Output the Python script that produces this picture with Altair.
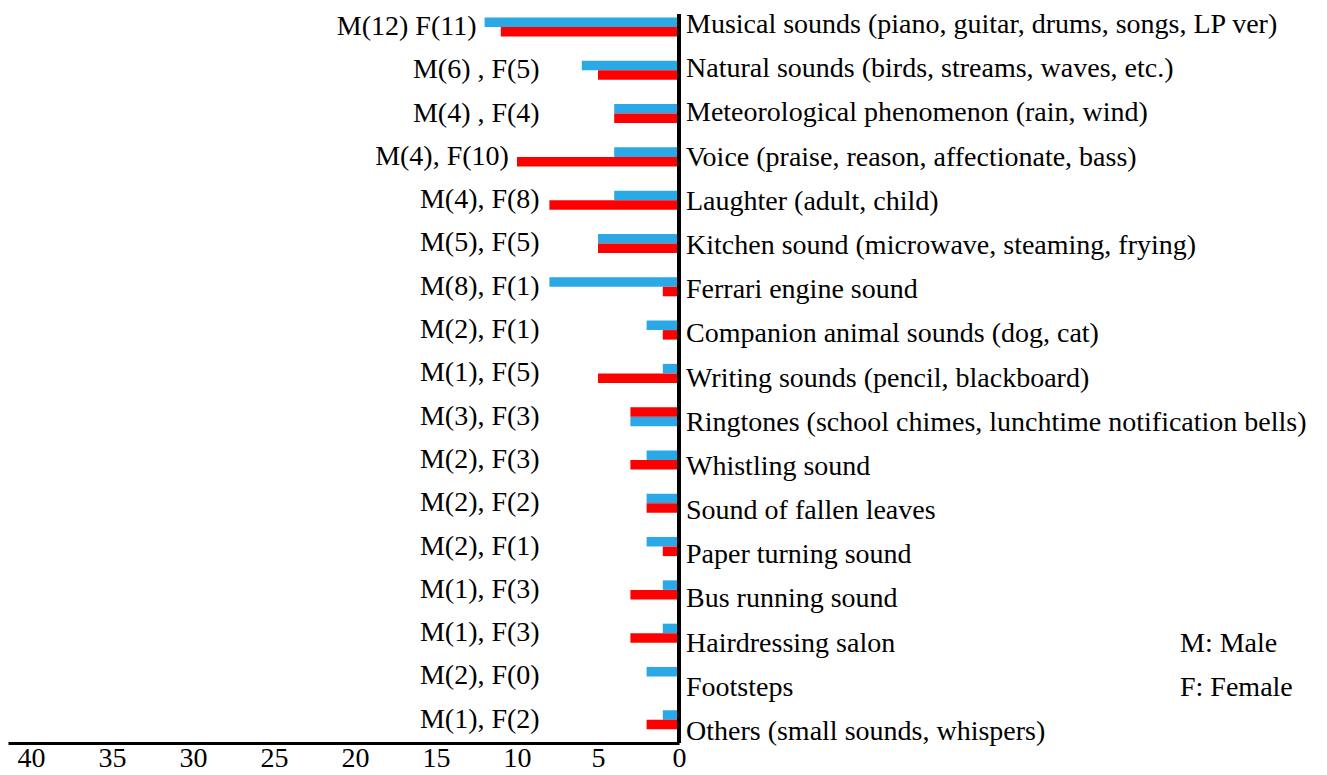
import altair as alt
import pandas as pd

categories = [
    "Musical sounds (piano, guitar, drums, songs, LP ver)",
    "Natural sounds (birds, streams, waves, etc.)",
    "Meteorological phenomenon (rain, wind)",
    "Voice (praise, reason, affectionate, bass)",
    "Laughter (adult, child)",
    "Kitchen sound (microwave, steaming, frying)",
    "Ferrari engine sound",
    "Companion animal sounds (dog, cat)",
    "Writing sounds (pencil, blackboard)",
    "Ringtones (school chimes, lunchtime notification bells)",
    "Whistling sound",
    "Sound of fallen leaves",
    "Paper turning sound",
    "Bus running sound",
    "Hairdressing salon",
    "Footsteps",
    "Others (small sounds, whispers)",
]
male = [12, 6, 4, 4, 4, 5, 8, 2, 1, 3, 2, 2, 2, 1, 1, 2, 1]
female = [11, 5, 4, 10, 8, 5, 1, 1, 5, 3, 3, 2, 1, 3, 3, 0, 2]
count_labels = [
    "M(12) F(11)", "M(6) , F(5)", "M(4) , F(4)", "M(4), F(10)", "M(4), F(8)",
    "M(5), F(5)", "M(8), F(1)", "M(2), F(1)", "M(1), F(5)", "M(3), F(3)",
    "M(2), F(3)", "M(2), F(2)", "M(2), F(1)", "M(1), F(3)", "M(1), F(3)",
    "M(2), F(0)", "M(1), F(2)",
]
male_on_top = [True] * 9 + [False] + [True] * 7
x_ticks = [0, 5, 10, 15, 20, 25, 30, 35, 40]

BLUE = "#2aa9e6"
RED = "#ff0000"
FONT = "Liberation Serif"
FS = 28
H = 0.22

bars = []
for i, (m, f, top) in enumerate(zip(male, female, male_on_top)):
    if top:
        my0, my1, fy0, fy1 = i - H, i, i, i + H
    else:
        fy0, fy1, my0, my1 = i - H, i, i, i + H
    bars.append(dict(row=i, sex="Male", value=m, y0=my0, y1=my1))
    bars.append(dict(row=i, sex="Female", value=f, y0=fy0, y1=fy1))
bars_df = pd.DataFrame(bars)

lab_df = pd.DataFrame({
    "row": list(range(len(categories))),
    "category": categories,
    "count": count_labels,
    "lx": [max(8.6, max(m, f) + 0.5) for m, f in zip(male, female)],
})

W, HT = 671, 729
xscale = alt.Scale(domain=[0, W / 16.2], reverse=True, nice=False, zero=False)
yscale = alt.Scale(domain=[-0.3, -0.3 + HT / 43.3], reverse=True, nice=False, zero=False)
yscale_lab = alt.Scale(domain=[-0.249, -0.249 + HT / 44.19], reverse=True, nice=False, zero=False)

bar_layer = alt.Chart(bars_df).mark_rect().encode(
    x=alt.X("value:Q", scale=xscale,
            axis=alt.Axis(values=x_ticks, ticks=False, grid=False, labelFont=FONT,
                          labelFontSize=FS, labelColor="black", domainColor="black",
                          domainWidth=3, labelPadding=1, title=None, labelFlush=False)),
    x2=alt.datum(0),
    y=alt.Y("y0:Q", scale=yscale, axis=None),
    y2="y1:Q",
    color=alt.Color("sex:N", scale=alt.Scale(domain=["Male", "Female"], range=[BLUE, RED]), legend=None),
)

vline = alt.Chart(bars_df).mark_rule(color="black", strokeWidth=3).encode(
    x=alt.datum(0), y=alt.value(0), y2=alt.value(HT)
)

count_layer = alt.Chart(lab_df).mark_text(
    align="right", baseline="middle", font=FONT, fontSize=FS, color="black"
).encode(
    x=alt.X("lx:Q", scale=xscale),
    y=alt.Y("row:Q", scale=yscale, axis=None),
    text="count:N",
)

cat_layer = alt.Chart(lab_df).mark_text(
    align="left", baseline="middle", font=FONT, fontSize=FS, color="black", dx=7
).encode(
    x=alt.datum(0),
    y=alt.Y("row:Q", scale=yscale_lab, axis=None),
    text="category:N",
)

note_df = pd.DataFrame({"t": ["M: Male", "F: Female"], "r": [14, 15]})
note_layer = alt.Chart(note_df).mark_text(
    align="left", baseline="middle", font=FONT, fontSize=FS, color="black"
).encode(
    x=alt.value(1172),
    y=alt.Y("r:Q", scale=yscale_lab, axis=None),
    text="t:N",
)

chart = alt.layer(bar_layer, vline, count_layer, cat_layer, note_layer).resolve_scale(
    y="independent"
).properties(
    width=W, height=HT,
    padding={"left": 0, "top": 6, "right": 640, "bottom": 32},
    autosize="none",
    background="white",
).configure_view(stroke=None, strokeWidth=0)

chart.save("out.html", embed_options={"renderer": "svg", "actions": False})
